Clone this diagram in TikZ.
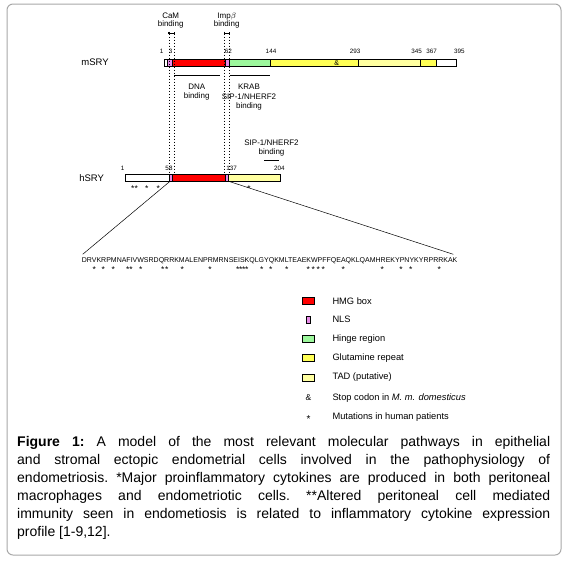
\documentclass[tikz,border=0pt]{standalone}
\usepackage{fontspec}
\setmainfont{Liberation Sans}
\definecolor{hmg}{HTML}{FF0000}
\definecolor{nls}{HTML}{E98BE9}
\definecolor{hinge}{HTML}{9CF79C}
\definecolor{glut}{HTML}{FFFF55}
\definecolor{tad}{HTML}{FFFFA0}
\definecolor{frame}{HTML}{A8A8A8}
\begin{document}
\begin{tikzpicture}[x=1pt,y=-1pt,
  seg/.style={draw=black,line width=0.5pt},
  lbl/.style={inner sep=0pt,font=\fontsize{8}{9}\selectfont,align=center},
  num/.style={inner sep=0pt,font=\fontsize{6.3}{7}\selectfont},
  prot/.style={inner sep=0pt,font=\fontsize{9.5}{10}\selectfont},
  ast/.style={inner sep=0pt,font=\fontsize{8.5}{9}\selectfont},
  leg/.style={inner sep=0pt,anchor=west,font=\fontsize{9.3}{11}\selectfont},
  dashv/.style={line width=0.5pt,dash pattern=on 1.6pt off 1.4pt},
  brk/.style={line width=1.1pt},
  conn/.style={line width=0.5pt}]
\useasboundingbox (0,0) rectangle (564,563);
\draw[frame,line width=1pt,rounded corners=6pt] (7,4) rectangle (561,555);

% top labels
\node[lbl] (cam) at (170.7,20.5) {CaM\\[-1pt]binding};
\node[lbl] (imp) at (226.7,20.5) {Imp$\beta$\\[-1pt]binding};
% brackets
\coordinate (c1) at (169,33.5); \coordinate (c2) at (174.3,33.5);
\coordinate (i1) at (224.3,33.5); \coordinate (i2) at (229.3,33.5);
\draw[brk] ([yshift=2pt]c1) -- (c1) -- (c2) -- ([yshift=2pt]c2);
\draw[brk] ([yshift=2pt]i1) -- (i1) -- (i2) -- ([yshift=2pt]i2);

% mSRY bar
\node[prot] (msry) at (95,62.7) {mSRY};
\draw[seg,fill=white] (164,59.5) rectangle (167.7,66);
\draw[seg,fill=nls]   (167.7,59.5) rectangle (172.3,66);
\draw[seg,fill=hmg]   (172.3,59.5) rectangle (225,66);
\draw[seg,fill=nls]   (225,59.5) rectangle (229,66);
\draw[seg,fill=hinge] (229,59.5) rectangle (270.7,66);
\draw[seg,fill=glut]  (270.7,59.5) rectangle (358.7,66);
\draw[seg,fill=tad]   (358.7,59.5) rectangle (420,66);
\draw[seg,fill=glut]  (420,59.5) rectangle (436.7,66);
\draw[seg,fill=white] (436.7,59.5) rectangle (456.7,66);
\node[inner sep=0pt,font=\fontsize{7}{7}\selectfont] (amp) at (336.7,62.9) {\&};
\node[num] (m1) at (161.7,51.7) {1};
\node[num] (m3) at (170.5,51.7) {3};
\node[num] (m62) at (228.3,51.7) {62};
\node[num] (m144) at (271,51.7) {144};
\node[num] (m293) at (355,51.7) {293};
\node[num] (m345) at (416.7,51.7) {345};
\node[num] (m367) at (431.7,51.7) {367};
\node[num] (m395) at (459.3,51.7) {395};

% domain lines
\coordinate (d1) at (174.3,75); \coordinate (d2) at (220,75);
\coordinate (k1) at (230,75); \coordinate (k2) at (270,75);
\draw[line width=0.8pt] (d1) -- (d2);
\draw[line width=0.8pt] (k1) -- (k2);
\node[lbl] (dna) at (196.7,92.2) {DNA\\[0.5pt]binding};
\node[lbl] (krab) at (249,97.5) {KRAB\\[0.5pt]SIP-1/NHERF2\\[0.5pt]binding};

% hSRY
\node[lbl] (sip) at (271.5,147.8) {SIP-1/NHERF2\\[0.5pt]binding};
\coordinate (s1) at (264.3,160.7); \coordinate (s2) at (279,160.7);
\draw[line width=0.8pt] (s1) -- (s2);
\node[prot] (hsry) at (91.7,177.7) {hSRY};
\draw[seg,fill=white] (125,174) rectangle (169,181.3);
\draw[seg,fill=nls]   (169,174) rectangle (172.7,181.3);
\draw[seg,fill=hmg]   (172.7,174) rectangle (225.3,181.3);
\draw[seg,fill=nls]   (225.3,174) rectangle (228.7,181.3);
\draw[seg,fill=tad]   (228.7,174) rectangle (280,181.3);
\node[num] (h1) at (122.7,168.3) {1};
\node[num] (h58) at (169,168.3) {58};
\node[num] (h137) at (231.7,168.3) {137};
\node[num] (h204) at (279.3,168.3) {204};
\foreach \x in {132.7,136.2,146.7,158.3,249}
  \node[ast] at (\x,189) {*};

% dashed guide lines
\draw[dashv] (c1) -- (169,174);
\draw[dashv] (c2) -- (174.3,174);
\draw[dashv] (i1) -- (224.3,174);
\draw[dashv] (i2) -- (229.3,174);

% sequence
\coordinate (hl) at (170,181.3);
\coordinate (hr) at (228.7,181.3);
\node[inner sep=0pt,anchor=west,font=\fontsize{7}{8}\selectfont] (seq) at (81.7,261)
  {DRVKRPMNAFIVWSRDQRRKMALENPRMRNSEISKQLGYQKMLTEAEKWPFFQEAQKLQAMHREKYPNYKYRPRRKAK};
\coordinate (sl) at (82.7,254.3);
\coordinate (sr) at (453.3,254.3);
\draw[conn] (hl) -- (sl);
\draw[conn] (hr) -- (sr);
\foreach \x in {94.3,103.3,113.3,127.7,131,140.7,162.7,166.7,182.3,210,237.7,240.7,243.7,246.7,261.7,270.7,286.7,308.3,313.3,318.3,323.3,343.3,382.3,401,410.7,439.3}
  \node[ast] at (\x,270) {*};

% legend
\draw[seg,fill=hmg]   (302.7,297.2) rectangle (314.3,304.2);
\draw[seg,fill=nls]   (306.7,315.8) rectangle (310,322.8);
\draw[seg,fill=hinge] (302.7,335.5) rectangle (314.3,342.5);
\draw[seg,fill=glut]  (302.7,354.2) rectangle (314.3,361.2);
\draw[seg,fill=tad]   (302.7,373.8) rectangle (314.3,380.8);
\node[inner sep=0pt,font=\fontsize{8.5}{9}\selectfont] (lamp) at (308.5,397.7) {\&};
\node[inner sep=0pt,font=\fontsize{10}{10}\selectfont] (last) at (308.5,419.3) {*};
\node[leg] (t1) at (332.3,300.7) {HMG box};
\node[leg] (t2) at (332.3,319.3) {NLS};
\node[leg] (t3) at (332.3,339) {Hinge region};
\node[leg] (t4) at (332.3,357.7) {Glutamine repeat};
\node[leg] (t5) at (332.3,377.3) {TAD (putative)};
\node[leg] (t6) at (332.3,397.7) {Stop codon in \textit{M. m. domesticus}};
\node[leg] (t7) at (332.3,416.7) {Mutations in human patients};

% caption
\node[inner sep=0pt,anchor=north west,text width=533pt,align=justify,
  font=\fontsize{14}{18}\selectfont\frenchspacing] (cap) at (17,436)
  {\textbf{Figure 1:} A model of the most relevant molecular pathways in epithelial\linebreak
   and stromal ectopic endometrial cells involved in the pathophysiology of\linebreak
   endometriosis. *Major proinflammatory cytokines are produced in both peritoneal\linebreak
   macrophages and endometriotic cells. **Altered peritoneal cell mediated\linebreak
   immunity seen in endometiosis is related to inflammatory cytokine expression\linebreak
   profile [1-9,12].};
\end{tikzpicture}
\end{document}
